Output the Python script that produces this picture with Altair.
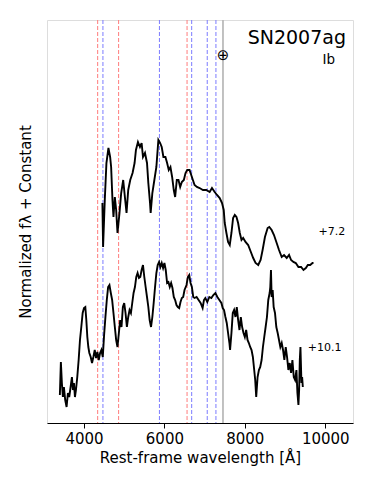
import altair as alt
import pandas as pd

# +7.2 d spectrum (rest wavelength [A], normalized flux + constant)
lam_a = [4458, 4475, 4517, 4558, 4608, 4650, 4675, 4708, 4733, 4767, 4800, 4833, 4883, 4925,
         4975, 5017, 5058, 5100, 5150, 5208, 5258, 5292, 5342, 5392, 5433, 5467, 5517, 5567,
         5600, 5642, 5658, 5700, 5750, 5800, 5850, 5892, 5933, 5975, 6025, 6067, 6108, 6150,
         6192, 6233, 6267, 6308, 6350, 6392, 6433, 6483, 6525, 6567, 6625, 6667, 6708, 6750,
         6808, 6875, 6958, 7042, 7125, 7183, 7250, 7308, 7375, 7433, 7475, 7500, 7542, 7583,
         7625, 7667, 7708, 7750, 7792, 7833, 7875, 7917, 7958, 8017, 8083, 8150, 8208, 8267,
         8333, 8392, 8442, 8500, 8567, 8608, 8667, 8725, 8792, 8850, 8917, 8975, 9042, 9100,
         9150, 9208, 9267, 9333, 9400, 9458, 9517, 9567, 9625, 9683, 9708]
flux_a = [2.20, 1.76, 2.23, 2.60, 2.75, 2.66, 2.56, 2.23, 2.06, 2.26, 2.13, 1.90, 2.10, 2.30,
          2.43, 2.26, 2.10, 2.33, 2.43, 2.50, 2.60, 2.73, 2.81, 2.76, 2.80, 2.66, 2.70, 2.60,
          2.40, 2.20, 2.10, 2.30, 2.43, 2.56, 2.83, 2.80, 2.76, 2.66, 2.66, 2.60, 2.53, 2.56,
          2.46, 2.33, 2.26, 2.43, 2.43, 2.36, 2.41, 2.43, 2.50, 2.53, 2.53, 2.48, 2.43, 2.38,
          2.36, 2.35, 2.33, 2.33, 2.31, 2.35, 2.31, 2.28, 2.25, 2.20, 2.13, 2.00, 1.90, 1.81,
          1.78, 1.90, 2.05, 2.08, 2.06, 2.00, 1.90, 1.83, 1.85, 1.81, 1.78, 1.71, 1.65, 1.60,
          1.58, 1.63, 1.73, 1.86, 1.95, 1.96, 1.93, 1.88, 1.80, 1.73, 1.66, 1.68, 1.65, 1.68,
          1.63, 1.61, 1.60, 1.56, 1.56, 1.53, 1.55, 1.58, 1.58, 1.60, 1.60]

# +10.1 d spectrum
lam_b = [3400, 3425, 3450, 3475, 3500, 3533, 3567, 3600, 3633, 3667, 3700, 3725, 3750, 3775,
         3800, 3833, 3867, 3900, 3933, 3967, 4000, 4033, 4058, 4083, 4108, 4133, 4167, 4200,
         4233, 4267, 4300, 4333, 4367, 4400, 4433, 4467, 4500, 4533, 4567, 4600, 4633, 4667,
         4700, 4733, 4767, 4800, 4833, 4867, 4900, 4933, 4967, 5000, 5033, 5067, 5100, 5133,
         5167, 5200, 5233, 5267, 5300, 5333, 5367, 5400, 5433, 5467, 5500, 5533, 5567, 5600,
         5633, 5667, 5700, 5733, 5767, 5800, 5833, 5867, 5900, 5933, 5967, 6000, 6033, 6067,
         6100, 6133, 6167, 6200, 6233, 6267, 6300, 6333, 6367, 6400, 6433, 6467, 6500, 6550,
         6583, 6617, 6650, 6683, 6717, 6750, 6800, 6850, 6900, 6950, 6983, 7017, 7067, 7117,
         7167, 7217, 7267, 7317, 7367, 7417, 7450, 7483, 7517, 7550, 7583, 7617, 7633, 7667,
         7700, 7733, 7767, 7800, 7833, 7867, 7900, 7933, 7967, 8000, 8033, 8067, 8100, 8133,
         8167, 8200, 8233, 8258, 8283, 8317, 8350, 8383, 8417, 8450, 8483, 8517, 8550, 8583,
         8617, 8633, 8650, 8667, 8692, 8717, 8750, 8783, 8817, 8850, 8883, 8917, 8950, 8983,
         9017, 9050, 9083, 9117, 9150, 9183, 9217, 9250, 9283, 9308, 9333, 9350, 9367, 9383,
         9408, 9425, 9442]
flux_b = [0.28, 0.61, 0.40, 0.26, 0.36, 0.23, 0.16, 0.30, 0.26, 0.36, 0.46, 0.33, 0.40, 0.26,
          0.33, 0.46, 0.63, 0.83, 0.96, 1.10, 1.15, 1.16, 1.03, 0.86, 0.76, 0.70, 0.66, 0.60,
          0.66, 0.73, 0.65, 0.71, 0.63, 0.70, 0.73, 0.66, 0.88, 1.06, 1.23, 1.36, 1.38, 1.30,
          1.23, 1.10, 0.96, 0.83, 0.76, 0.90, 1.03, 0.96, 1.16, 1.20, 1.10, 0.96, 1.06, 1.13,
          1.10, 1.20, 1.30, 1.36, 1.46, 1.50, 1.45, 1.46, 1.53, 1.58, 1.46, 1.36, 1.26, 1.16,
          1.03, 0.96, 1.06, 1.20, 1.36, 1.50, 1.58, 1.61, 1.56, 1.60, 1.55, 1.60, 1.53, 1.40,
          1.41, 1.36, 1.40, 1.35, 1.26, 1.23, 1.18, 1.16, 1.15, 1.21, 1.25, 1.26, 1.33, 1.38,
          1.46, 1.48, 1.40, 1.36, 1.26, 1.25, 1.26, 1.23, 1.20, 1.15, 1.23, 1.25, 1.21, 1.26,
          1.25, 1.28, 1.30, 1.26, 1.23, 1.20, 1.15, 1.13, 1.06, 1.00, 0.90, 0.80, 0.73, 0.90,
          1.10, 1.13, 1.06, 1.16, 1.03, 0.93, 1.06, 0.96, 0.90, 0.86, 0.93, 0.83, 0.80, 0.76,
          0.73, 0.66, 0.53, 0.43, 0.26, 0.46, 0.53, 0.56, 0.63, 0.76, 0.86, 0.96, 1.06, 1.23,
          1.30, 1.36, 1.53, 1.26, 1.33, 1.16, 1.10, 0.96, 0.90, 0.83, 0.76, 0.80, 0.73, 0.63,
          0.76, 0.66, 0.53, 0.60, 0.50, 0.63, 0.46, 0.43, 0.53, 0.30, 0.18, 0.33, 0.63, 0.76,
          0.40, 0.46, 0.36]

# line identifications
h_lines = [4340, 4861, 6563]
he_lines = [4471, 5876, 6678, 7065, 7281]
telluric = [7435, 7478]

# labels
epoch_labels = ["+7.2", "+10.1"]
epoch_x = [9834, 9567]
epoch_y = [1.91, 0.75]

x_ticks = [4000, 6000, 8000, 10000]
FONT = "DejaVu Sans"

spec = pd.DataFrame({
    "lam": lam_a + lam_b,
    "flux": flux_a + flux_b,
    "epoch": ["+7.2"] * len(lam_a) + ["+10.1"] * len(lam_b),
})

xs = alt.Scale(domain=[3080, 10690], nice=False, zero=False)
ys = alt.Scale(domain=[0, 4.03], nice=False, zero=False)

x_enc = alt.X("lam:Q", scale=xs, title="Rest-frame wavelength [Å]",
              axis=alt.Axis(values=x_ticks, format="d", grid=False, tickSize=5,
                            labelFontSize=15, titleFontSize=15, labelFont=FONT,
                            titleFont=FONT, titleFontWeight="normal", labelColor="black",
                            titleColor="black", domainColor="black", tickColor="black",
                            labelPadding=3, titlePadding=4))
y_enc = alt.Y("flux:Q", scale=ys, title="Normalized fλ + Constant",
              axis=alt.Axis(labels=False, ticks=False, grid=False, domain=False,
                            titleFontSize=15, titleFont=FONT, titleFontWeight="normal",
                            titleColor="black", titlePadding=14))

band = alt.Chart(pd.DataFrame({"lo": [telluric[0]], "hi": [telluric[1]]})).mark_rect(
    color="#b8b8b8").encode(x=alt.X("lo:Q", scale=xs), x2="hi:Q")

hrules = alt.Chart(pd.DataFrame({"lam": h_lines})).mark_rule(
    color="#ff7c7c", strokeDash=[4, 2], strokeWidth=1).encode(x=alt.X("lam:Q", scale=xs))
herules = alt.Chart(pd.DataFrame({"lam": he_lines})).mark_rule(
    color="#7c7cff", strokeDash=[4, 2], strokeWidth=1).encode(x=alt.X("lam:Q", scale=xs))

lines = alt.Chart(spec).mark_line(color="black", strokeWidth=1.9, strokeJoin="miter").encode(
    x=x_enc, y=y_enc, detail="epoch:N", order="lam:Q")

labels = alt.Chart(pd.DataFrame({"t": epoch_labels, "lam": epoch_x, "flux": epoch_y})).mark_text(
    align="left", baseline="middle", fontSize=11, font=FONT, color="black").encode(
    x=alt.X("lam:Q", scale=xs), y=alt.Y("flux:Q", scale=ys), text="t:N")

earth = alt.Chart(pd.DataFrame({"t": ["⊕"], "lam": [7458], "flux": [3.68]})).mark_text(
    align="center", baseline="middle", fontSize=15, font=FONT, color="black").encode(
    x=alt.X("lam:Q", scale=xs), y=alt.Y("flux:Q", scale=ys), text="t:N")

name = alt.Chart(pd.DataFrame({"t": ["SN2007ag"]})).mark_text(
    align="right", baseline="alphabetic", fontSize=19, font=FONT, color="black").encode(
    x=alt.value(299), y=alt.value(23.5), text="t:N")
sntype = alt.Chart(pd.DataFrame({"t": ["Ib"]})).mark_text(
    align="right", baseline="alphabetic", fontSize=13.5, font=FONT, color="black").encode(
    x=alt.value(288), y=alt.value(43.5), text="t:N")

chart = alt.layer(band, hrules, herules, lines, labels, earth, name, sntype).properties(
    width=306, height=403,
    autosize=alt.AutoSizeParams(type="none"),
    padding={"left": 39, "top": 12, "right": 13, "bottom": 55},
).configure_view(stroke="black", strokeWidth=1.2).configure(background="white")

chart.save("out.html", embed_options={"renderer": "svg", "actions": False})
